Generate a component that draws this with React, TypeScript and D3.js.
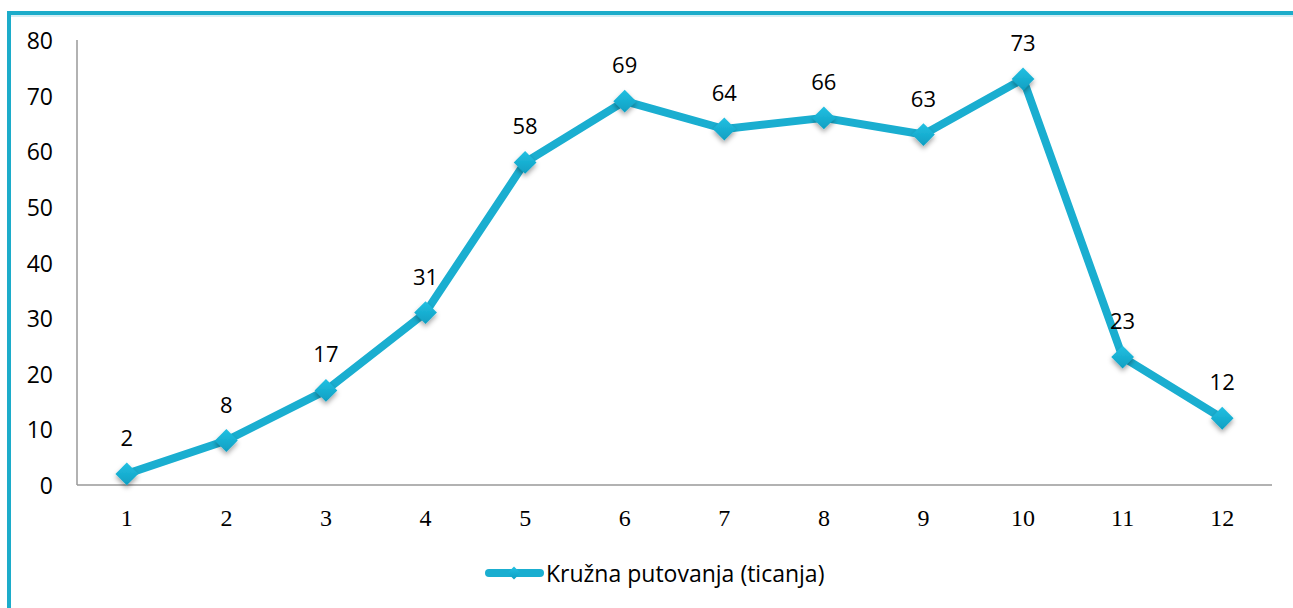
import React, { useEffect, useRef } from 'react';
import * as d3 from 'd3';

const categories = ['1', '2', '3', '4', '5', '6', '7', '8', '9', '10', '11', '12'];
const values = [2, 8, 17, 31, 58, 69, 64, 66, 63, 73, 23, 12];
const yTicks = [0, 10, 20, 30, 40, 50, 60, 70, 80];
const seriesName = 'Kružna putovanja (ticanja)';

const App: React.FC = () => {
  const svgRef = useRef<SVGSVGElement>(null);

  useEffect(() => {
    if (!svgRef.current) return;
    const width = 1293;
    const height = 608;
    const svg = d3.select(svgRef.current);
    svg.selectAll('*').remove();

    const teal = '#1cacca';
    const lineColor = '#1aaed0';
    const sans = '"Open Sans", Lato, sans-serif';

    // frame: left and top border
    svg.append('rect').attr('x', 7).attr('y', 11).attr('width', width - 7).attr('height', 4).attr('fill', teal);
    svg.append('rect').attr('x', 7).attr('y', 15).attr('width', width - 7).attr('height', 2).attr('fill', '#d4eef4');
    svg.append('rect').attr('x', 7).attr('y', 11).attr('width', 4).attr('height', height - 11).attr('fill', teal);

    const margin = { left: 77, right: 21, top: 40, bottom: 123 };
    const innerW = width - margin.left - margin.right;
    const innerH = height - margin.top - margin.bottom;

    const x = d3.scaleBand().domain(categories).range([0, innerW]);
    const y = d3.scaleLinear().domain([0, 80]).range([innerH, 0]);

    const g = svg.append('g').attr('transform', `translate(${margin.left},${margin.top})`);

    // axes
    g.append('line').attr('x1', 0).attr('x2', 0).attr('y1', 0).attr('y2', innerH)
      .attr('stroke', '#989898').attr('stroke-width', 1.5);
    g.append('line').attr('x1', 0).attr('x2', innerW).attr('y1', innerH).attr('y2', innerH)
      .attr('stroke', '#989898').attr('stroke-width', 1.5);

    yTicks.forEach(t => {
      g.append('text')
        .attr('x', -24)
        .attr('y', y(t))
        .attr('text-anchor', 'end')
        .attr('dominant-baseline', 'central')
        .attr('font-family', sans)
        .attr('font-size', 23)
        .attr('fill', '#000')
        .text(t);
    });

    categories.forEach(c => {
      g.append('text')
        .attr('x', (x(c) ?? 0) + x.bandwidth() / 2)
        .attr('y', innerH + 33)
        .attr('text-anchor', 'middle')
        .attr('dominant-baseline', 'central')
        .attr('font-family', '"Liberation Serif", "Times New Roman", serif')
        .attr('font-size', 24)
        .attr('fill', '#000')
        .text(c);
    });

    const defs = svg.append('defs');
    const filter = defs.append('filter').attr('id', 'shadow').attr('x', '-50%').attr('y', '-50%').attr('width', '200%').attr('height', '200%');
    filter.append('feDropShadow').attr('dx', 0).attr('dy', 3).attr('stdDeviation', 2.5)
      .attr('flood-color', '#000').attr('flood-opacity', 0.35);
    const grad = defs.append('linearGradient').attr('id', 'mk').attr('x1', 0).attr('y1', 0).attr('x2', 0).attr('y2', 1);
    grad.append('stop').attr('offset', '0%').attr('stop-color', '#22c0e2');
    grad.append('stop').attr('offset', '100%').attr('stop-color', '#0f9fc2');

    const pts = values.map((v, i) => ({ cx: (x(categories[i]) ?? 0) + x.bandwidth() / 2, cy: y(v), v }));

    const line = d3.line<{ cx: number; cy: number }>().x(d => d.cx).y(d => d.cy);
    g.append('path')
      .datum(pts)
      .attr('fill', 'none')
      .attr('stroke', lineColor)
      .attr('stroke-width', 8)
      .attr('stroke-linejoin', 'round')
      .attr('d', line);

    const diamond = d3.symbol().type(d3.symbolDiamond2).size(330);
    pts.forEach(p => {
      g.append('path')
        .attr('d', diamond()!)
        .attr('transform', `translate(${p.cx},${p.cy})`)
        .attr('fill', 'url(#mk)')
        .attr('filter', 'url(#shadow)');
      g.append('text')
        .attr('x', p.cx)
        .attr('y', p.cy - 37)
        .attr('text-anchor', 'middle')
        .attr('dominant-baseline', 'central')
        .attr('font-family', sans)
        .attr('font-size', 22)
        .attr('fill', '#000')
        .text(p.v);
    });

    // legend
    const ly = 573;
    svg.append('line').attr('x1', 489).attr('x2', 540).attr('y1', ly).attr('y2', ly)
      .attr('stroke', lineColor).attr('stroke-width', 8).attr('stroke-linecap', 'round');
    svg.append('path')
      .attr('d', d3.symbol().type(d3.symbolDiamond2).size(110)()!)
      .attr('transform', `translate(514,${ly})`)
      .attr('fill', 'url(#mk)');
    svg.append('text')
      .attr('x', 546)
      .attr('y', ly)
      .attr('dominant-baseline', 'central')
      .attr('font-family', sans)
      .attr('font-size', 23)
      .attr('fill', '#000')
      .text(seriesName);
  }, []);

  return <svg ref={svgRef} width={1293} height={608} style={{ display: 'block', position: 'absolute', left: 0, top: 0 }} />;
};

export default App;
